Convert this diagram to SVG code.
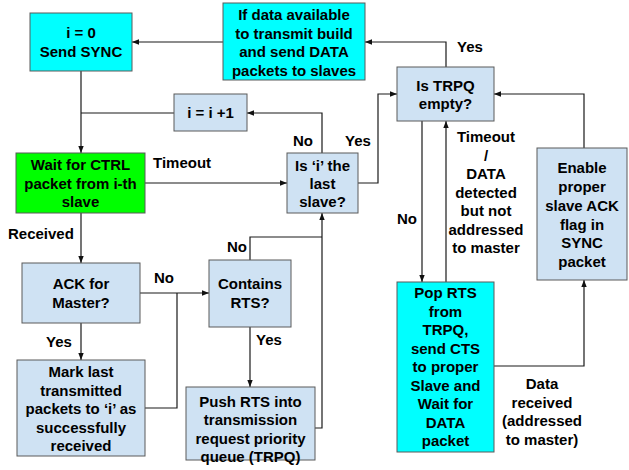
<svg xmlns="http://www.w3.org/2000/svg" width="629" height="470" viewBox="0 0 629 470">
<defs>
<marker id="ah" markerWidth="8" markerHeight="8" refX="7" refY="4" orient="auto" markerUnits="userSpaceOnUse">
<path d="M0,1.3 L7,4 L0,6.7 Z" fill="#111"/>
</marker>
<style>
text{font-family:"Liberation Sans",Arial,sans-serif;font-weight:bold;font-size:15px;fill:#000;text-anchor:middle}
.l{text-anchor:start}
rect{stroke:#5a5a5a;stroke-width:1}
.blue{fill:#cfe2f3}
.cyan{fill:#00ffff}
.green{fill:#00ff00}
#connectors path{fill:none;stroke:#1a1a1a;stroke-width:1.2}
.a{marker-end:url(#ah)}
</style>
</defs>
<rect width="629" height="470" fill="#fff" style="stroke:none"/>
<g id="connectors">
<path class="a" d="M223,42 H132"/>
<path class="a" d="M446,67 V42 H365"/>
<path class="a" d="M81,71 V153"/>
<path d="M174,113 H81"/>
<path class="a" d="M322,153 V113 H247"/>
<path class="a" d="M358,183 H378 V94 H397"/>
<path class="a" d="M145,183 H287"/>
<path class="a" d="M81,213 V263"/>
<path class="a" d="M140,293 H209"/>
<path d="M145,408 H177 V293"/>
<path class="a" d="M81,323 V360"/>
<path class="a" d="M250,327 V387"/>
<path d="M250,260 V237 H322"/>
<path class="a" d="M315,428 H322 V213"/>
<path class="a" d="M422,121 V282"/>
<path class="a" d="M446,282 V121"/>
<path class="a" d="M494,366 H584 V280"/>
<path class="a" d="M584,148 V94 H494"/>
</g>
<g id="labels">
<text x="470" y="52">Yes</text>
<text x="303" y="146">No</text>
<text x="358" y="146">Yes</text>
<text class="l" x="153" y="168">Timeout</text>
<text class="l" x="8" y="239">Received</text>
<text x="164" y="283">No</text>
<text x="59" y="347">Yes</text>
<text x="237" y="252">No</text>
<text x="269" y="345">Yes</text>
<text x="407" y="224">No</text>
<text x="486" y="142">Timeout</text>
<text x="486" y="160.5">/</text>
<text x="486" y="179">DATA</text>
<text x="486" y="197.5">detected</text>
<text x="486" y="216">but not</text>
<text x="486" y="234.5">addressed</text>
<text x="486" y="253">to master</text>
<text x="542" y="389">Data</text>
<text x="542" y="407.5">received</text>
<text x="542" y="426">(addressed</text>
<text x="542" y="444.5">to master)</text>
</g>
<g id="init">
<rect class="cyan" x="30" y="13" width="102" height="58"/>
<text x="81" y="38">i = 0</text>
<text x="81" y="57">Send SYNC</text>
</g>
<g id="senddata">
<rect class="cyan" x="223" y="3" width="142" height="77"/>
<text x="294" y="20">If data available</text>
<text x="294" y="38.5">to transmit build</text>
<text x="294" y="57">and send DATA</text>
<text x="294" y="75.5">packets to slaves</text>
</g>
<g id="incr">
<rect class="blue" x="174" y="94" width="73" height="37"/>
<text x="210.5" y="118">i = i +1</text>
</g>
<g id="trpqempty">
<rect class="blue" x="397" y="67" width="97" height="54"/>
<text x="445.5" y="91">Is TRPQ</text>
<text x="445.5" y="109">empty?</text>
</g>
<g id="wait">
<rect class="green" x="16" y="153" width="129" height="60"/>
<text x="80.5" y="170">Wait for CTRL</text>
<text x="80.5" y="189">packet from i-th</text>
<text x="80.5" y="207">slave</text>
</g>
<g id="lastslave">
<rect class="blue" x="287" y="153" width="71" height="60"/>
<text x="322.5" y="171">Is ‘i’ the</text>
<text x="322.5" y="189">last</text>
<text x="322.5" y="207">slave?</text>
</g>
<g id="enable">
<rect class="blue" x="537" y="148" width="90" height="132"/>
<text x="582" y="173">Enable</text>
<text x="582" y="192">proper</text>
<text x="582" y="211">slave ACK</text>
<text x="582" y="229.5">flag in</text>
<text x="582" y="248">SYNC</text>
<text x="582" y="267">packet</text>
</g>
<g id="ack">
<rect class="blue" x="22" y="263" width="118" height="60"/>
<text x="81" y="289">ACK for</text>
<text x="81" y="308">Master?</text>
</g>
<g id="contains">
<rect class="blue" x="209" y="260" width="82" height="67"/>
<text x="250" y="289">Contains</text>
<text x="250" y="308">RTS?</text>
</g>
<g id="mark">
<rect class="blue" x="17" y="360" width="128" height="96"/>
<text x="81" y="377">Mark last</text>
<text x="81" y="396">transmitted</text>
<text x="81" y="414">packets to ‘i’ as</text>
<text x="81" y="433">successfully</text>
<text x="81" y="451">received</text>
</g>
<g id="push">
<rect class="blue" x="186" y="387" width="129" height="73"/>
<text x="250.5" y="407">Push RTS into</text>
<text x="250.5" y="425">transmission</text>
<text x="250.5" y="444">request priority</text>
<text x="250.5" y="462">queue (TRPQ)</text>
</g>
<g id="pop">
<rect class="cyan" x="397" y="282" width="97" height="170"/>
<text x="445.5" y="298">Pop RTS</text>
<text x="445.5" y="316.5">from</text>
<text x="445.5" y="335">TRPQ,</text>
<text x="445.5" y="353.5">send CTS</text>
<text x="445.5" y="372">to proper</text>
<text x="445.5" y="390.5">Slave and</text>
<text x="445.5" y="409">Wait for</text>
<text x="445.5" y="427.5">DATA</text>
<text x="445.5" y="446">packet</text>
</g>
</svg>
